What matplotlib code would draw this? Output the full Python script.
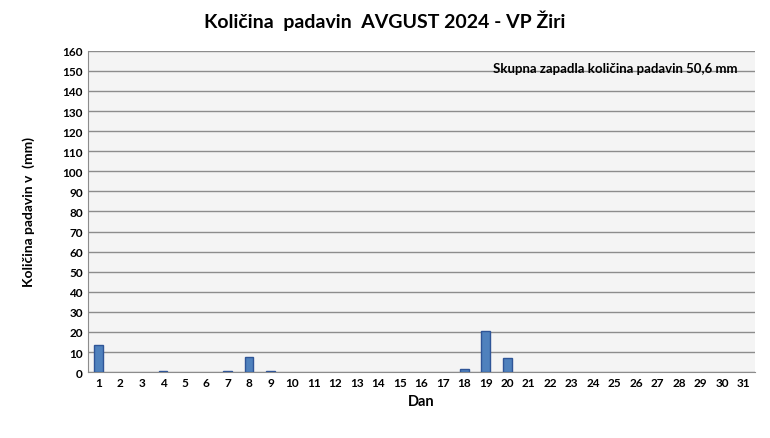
import matplotlib
matplotlib.use("Agg")
import matplotlib.pyplot as plt

days = list(range(1, 32))
rain = [13.4,0,0,0.4,0,0,0.4,7.3,0.4,0,0,0,0,0,0,0,0,1.5,20.3,7.0,0,0,0,0,0,0,0,0,0,0,0]
yticks = list(range(0, 161, 10))

plt.rcParams['font.family'] = ['Lato', 'DejaVu Sans']
fig = plt.figure(figsize=(7.7, 4.39), dpi=100)
ax = fig.add_axes([0.114, 0.150, 0.866, 0.732])
ax.set_facecolor('#F4F4F4')
bars = ax.bar(days, rain, width=0.4, color='#4F81BD', edgecolor='#2F5597', linewidth=1, zorder=3)
for b, v in zip(bars, rain):
    if v == 0:
        b.set_visible(False)
ax.set_xlim(0.5, 31.5)
ax.set_ylim(0, 160)
ax.set_yticks(yticks)
ax.set_xticks(days)
ax.tick_params(labelsize=8.5, length=0)
for l in ax.get_xticklabels() + ax.get_yticklabels():
    l.set_fontweight('bold')
ax.grid(axis='y', color='#8C8C8C', linewidth=1, zorder=0)
for s in ['top', 'right']:
    ax.spines[s].set_visible(False)
ax.spines['left'].set_color('#8C8C8C')
ax.spines['bottom'].set_color('#8C8C8C')
ax.set_xlabel('Dan', fontsize=10.5, fontweight='bold')
ax.set_ylabel('Količina padavin v  (mm)', fontsize=10, fontweight='bold', labelpad=20)
ax.text(0.975, 0.965, 'Skupna zapadla količina padavin 50,6 mm', transform=ax.transAxes,
        ha='right', va='top', fontsize=9.5, fontweight='bold')
fig.suptitle('Količina  padavin  AVGUST 2024 - VP Žiri', fontsize=14, fontweight='bold', y=0.975)
fig.savefig('out.png', dpi=100)
